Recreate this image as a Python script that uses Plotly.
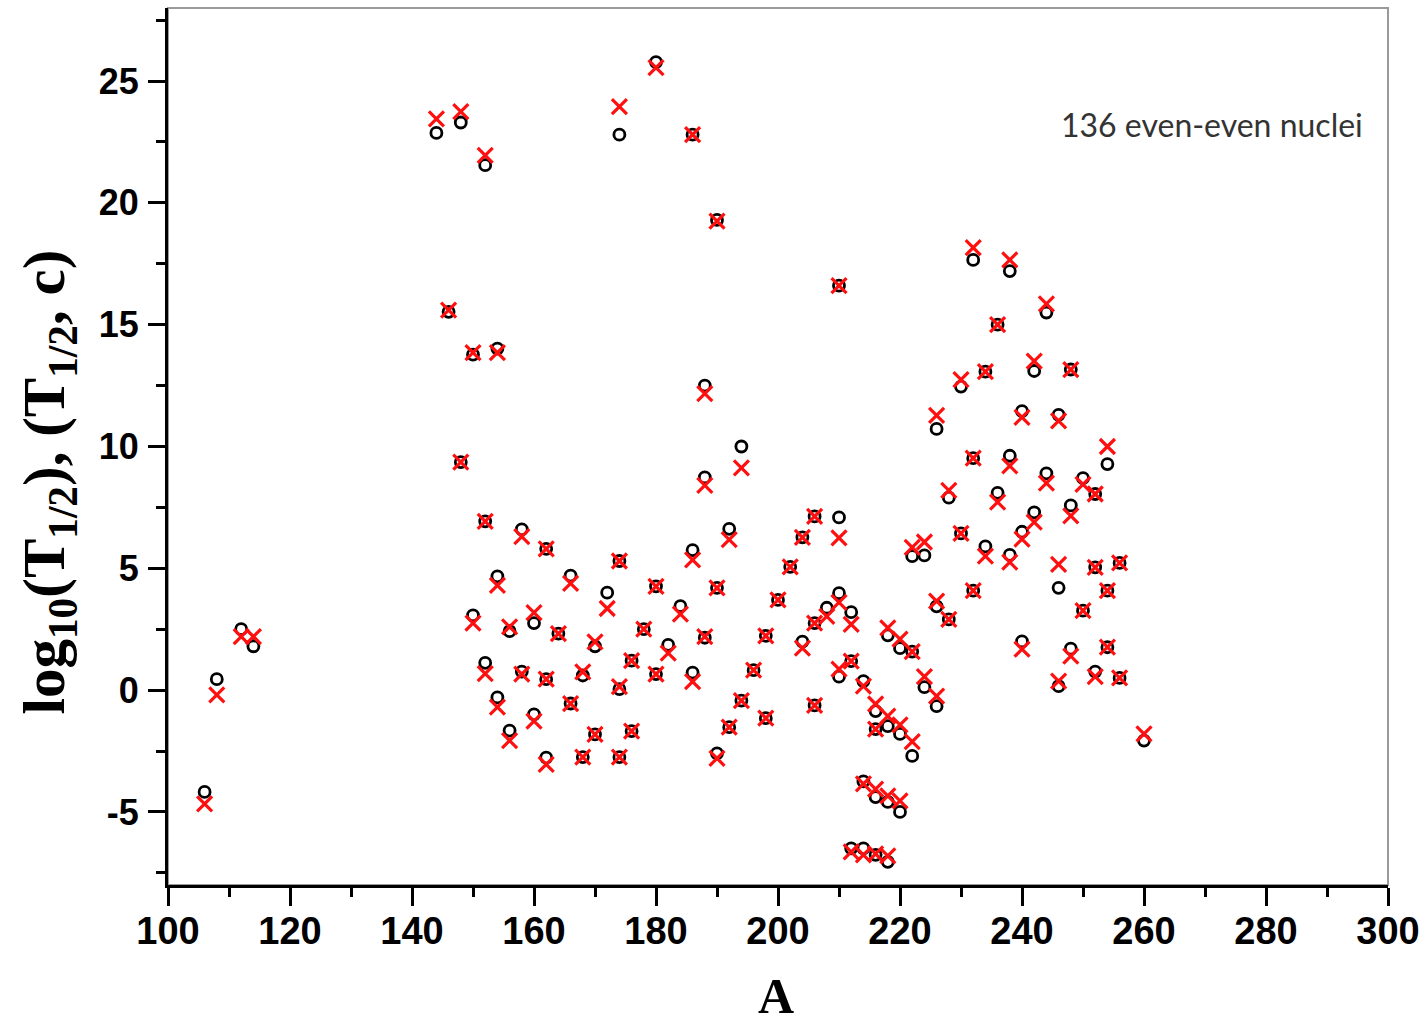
import plotly.graph_objects as go

# Mass number A of each nucleus
mass_A = [106, 108, 112, 114, 144, 146, 148, 148, 150, 150, 152, 152, 152,
          154, 154, 154, 156, 156, 158, 158, 160, 160, 162, 162, 162, 164,
          166, 166, 168, 168, 170, 170, 172, 174, 174, 174, 174, 176, 176,
          178, 180, 180, 180, 182, 184, 186, 186, 186, 188, 188, 188, 190,
          190, 190, 192, 192, 194, 194, 196, 198, 198, 200, 202, 204, 204,
          206, 206, 206, 208, 210, 210, 210, 210, 212, 212, 212, 214, 214,
          214, 216, 216, 216, 216, 218, 218, 218, 218, 220, 220, 220, 222,
          222, 222, 224, 224, 226, 226, 226, 228, 228, 230, 230, 232, 232,
          232, 234, 234, 236, 236, 238, 238, 238, 240, 240, 240, 242, 242,
          244, 244, 246, 246, 246, 248, 248, 248, 250, 250, 252, 252, 252,
          254, 254, 254, 256, 256, 260]

# log10(T1/2) experimental (black circles)
log_T_exp = [-4.18, 0.45, 2.5, 1.8, 22.87, 15.53, 23.3, 9.36, 13.77, 3.07,
             21.55, 6.93, 1.12, 14.02, 4.67, -0.3, 2.42, -1.66, 6.6, 0.76,
             2.75, -1.0, 5.8, 0.45, -2.77, 2.32, 4.7, -0.55, 0.6, -2.75,
             1.8, -1.82, 4.0, 22.8, 5.3, 0.04, -2.75, 1.21, -1.68, 2.5,
             25.78, 4.26, 0.66, 1.86, 3.45, 22.8, 5.75, 0.72, 12.5, 8.73,
             2.15, 19.3, 4.2, -2.6, 6.62, -1.52, 10.0, -0.43, 0.82, 2.23,
             -1.15, 3.7, 5.06, 6.27, 1.99, 7.13, 2.75, -0.63, 3.38, 16.6,
             7.09, 3.98, 0.55, 3.2, 1.19, -6.5, 0.37, -3.75, -6.5, -0.86,
             -1.6, -4.39, -6.76, 2.25, -1.48, -4.59, -7.05, 1.72, -1.8, -5.0,
             5.5, 1.58, -2.7, 5.53, 0.12, 10.72, 3.44, -0.66, 7.9, 2.9,
             12.46, 6.43, 17.66, 9.52, 4.08, 13.07, 5.9, 15.0, 8.1, 17.2,
             9.62, 5.55, 11.45, 6.5, 2.0, 13.1, 7.3, 15.5, 8.9, 11.3,
             4.2, 0.16, 13.16, 7.58, 1.7, 8.7, 3.26, 8.05, 5.04, 0.76,
             9.28, 4.08, 1.76, 5.22, 0.5, -2.07]

# log10(T1/2, c) calculated (red crosses)
log_T_calc = [-4.67, -0.2, 2.2, 2.2, 23.45, 15.6, 23.75, 9.36, 13.85, 2.75,
              21.95, 6.93, 0.68, 13.85, 4.3, -0.7, 2.6, -2.07, 6.3, 0.66,
              3.18, -1.27, 5.8, 0.45, -3.05, 2.32, 4.38, -0.55, 0.75, -2.75,
              1.98, -1.82, 3.35, 23.95, 5.3, 0.14, -2.75, 1.21, -1.68, 2.5,
              25.55, 4.26, 0.66, 1.52, 3.12, 22.8, 5.35, 0.35, 12.17, 8.4,
              2.2, 19.25, 4.2, -2.8, 6.18, -1.52, 9.12, -0.43, 0.82, 2.23,
              -1.15, 3.7, 5.06, 6.27, 1.72, 7.13, 2.75, -0.63, 3.03, 16.6,
              6.25, 3.6, 0.86, 2.7, 1.19, -6.64, 0.16, -3.85, -6.76, -0.57,
              -1.6, -4.06, -6.72, 2.55, -1.07, -4.34, -6.8, 2.09, -1.43, -4.55,
              5.86, 1.58, -2.11, 6.08, 0.55, 11.28, 3.65, -0.25, 8.2, 2.9,
              12.75, 6.43, 18.16, 9.52, 4.08, 13.07, 5.5, 15.0, 7.72, 17.66,
              9.2, 5.25, 11.2, 6.2, 1.68, 13.5, 6.9, 15.85, 8.5, 11.05,
              5.16, 0.37, 13.16, 7.15, 1.4, 8.45, 3.26, 8.05, 5.04, 0.55,
              10.0, 4.08, 1.76, 5.22, 0.5, -1.8]

x_ticks = [100, 120, 140, 160, 180, 200, 220, 240, 260, 280, 300]
y_ticks = [-5, 0, 5, 10, 15, 20, 25]

fig = go.Figure()
fig.add_trace(go.Scatter(
    x=mass_A, y=log_T_exp, mode="markers", name="exp",
    marker=dict(symbol="circle-open", size=11, color="black",
                line=dict(width=2.8, color="black")),
))
fig.add_trace(go.Scatter(
    x=mass_A, y=log_T_calc, mode="markers", name="calc",
    marker=dict(symbol="x-thin-open", size=15, color="#ff1010",
                line=dict(width=3.2, color="#ff1010")),
))

sans = "Liberation Sans, Arial, sans-serif"
serif = "Liberation Serif, Times New Roman, serif"

fig.update_layout(
    width=1424, height=1029,
    margin=dict(l=168, r=36, t=8, b=144),
    paper_bgcolor="white", plot_bgcolor="white",
    showlegend=False,
    xaxis=dict(
        range=[100, 300], tickvals=x_ticks, ticktext=[f"<b>{v}</b>" for v in x_ticks],
        showgrid=False, zeroline=False, automargin=False,
        showline=True, linecolor="black", linewidth=3,
        ticks="outside", ticklen=18, tickwidth=3, tickcolor="black",
        minor=dict(dtick=10, ticks="outside", ticklen=9, tickwidth=3, tickcolor="black"),
        tickfont=dict(family=sans, size=38, color="black"),
        ticklabelstandoff=-8,
    ),
    yaxis=dict(
        range=[-8, 28], tickvals=y_ticks, ticktext=[f"<b>{v}</b>" for v in y_ticks],
        showgrid=False, zeroline=False, automargin=False,
        showline=True, linecolor="black", linewidth=3,
        ticks="outside", ticklen=17, tickwidth=3, tickcolor="black",
        minor=dict(dtick=2.5, ticks="outside", ticklen=9, tickwidth=3, tickcolor="black"),
        tickfont=dict(family=sans, size=36, color="black"),
        ticklabelstandoff=2,
    ),
    shapes=[dict(type="rect", xref="paper", yref="paper", x0=0, x1=1, y0=0, y1=1,
                 line=dict(color="#9a9a9a", width=2), layer="below")],
    annotations=[
        dict(x=296.2, y=23.2, xref="x", yref="y", xanchor="right", yanchor="middle",
             text="136 even-even nuclei", showarrow=False,
             font=dict(family="Lato, Open Sans, sans-serif", size=32, color="#333333")),
        dict(x=-0.098, y=0.4595, xref="paper", yref="paper", xanchor="center", yanchor="middle",
             textangle=-90, showarrow=False,
             text="<b>log<sub>10</sub>(T<sub>1/2</sub>), (T<sub>1/2</sub>, c)</b>",
             font=dict(family=serif, size=59, color="black")),
        dict(x=0.498, y=-0.16, xref="paper", yref="paper", xanchor="center", yanchor="bottom",
             showarrow=False, text="<b>A</b>", borderpad=0,
             font=dict(family=serif, size=50, color="black")),
    ],
)

fig.write_html("out.html")
